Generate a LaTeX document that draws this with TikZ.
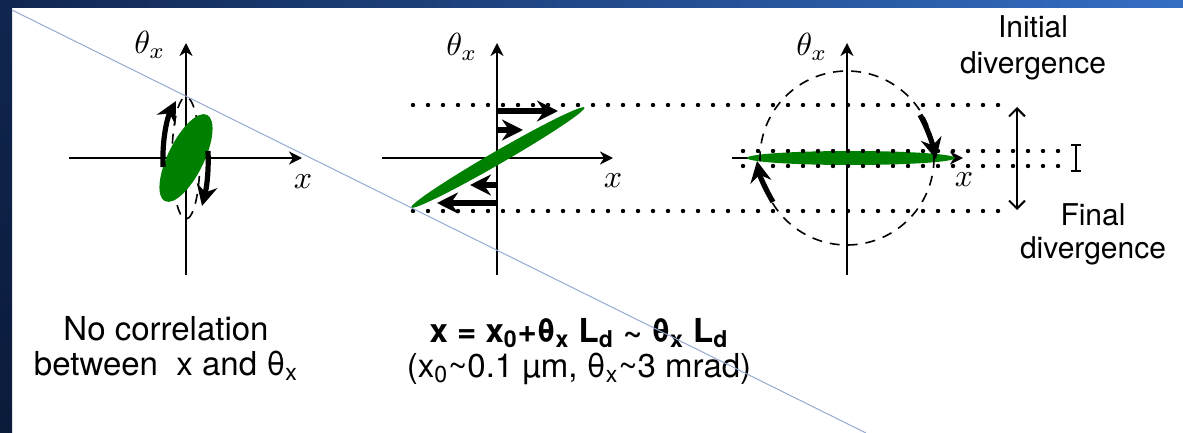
\documentclass[tikz,border=0pt]{standalone}
\usepackage{fontspec}
\setmainfont{TeX Gyre Heros}
\usetikzlibrary{arrows.meta}
\definecolor{beamgreen}{RGB}{0,128,0}
\definecolor{slidenavy}{RGB}{16,38,80}
\definecolor{slidedeep}{RGB}{11,27,58}
\definecolor{slideblue}{RGB}{52,110,196}
\definecolor{crossline}{RGB}{150,170,210}
\newcommand{\axtext}[1]{\scalebox{1.6}{$#1$}}
\tikzset{
  axisline/.style={line width=1pt,-{Stealth[length=6.5pt,width=6.5pt,inset=2pt]}},
  kick/.style={line width=2.6pt,-{Stealth[length=10.5pt,width=10.5pt,inset=3.5pt]}},
  dotline/.style={line width=2.2pt,line cap=round,dash pattern=on 0pt off 7.5pt},
  ring/.style={line width=0.8pt,dash pattern=on 5pt off 4pt},
  axlabel/.style={inner sep=0pt},
  caption/.style={align=center,inner sep=0pt,anchor=north,font=\fontsize{16.5}{17.5}\selectfont},
  sidelabel/.style={align=center,inner sep=0pt,anchor=north,font=\fontsize{15}{18}\selectfont}
}
\begin{document}
\begin{tikzpicture}[x=0.5pt,y=-0.5pt]
  \useasboundingbox (0,0) rectangle (1183,433);
  % slide frame
  \fill[white] (0,0) rectangle (1183,433);
  \shade[left color=slidenavy,right color=slideblue] (0,0) rectangle (1183,8);
  \shade[top color=slidenavy,bottom color=slidedeep] (0,0) rectangle (12,433);

  % no correlation
  \coordinate (O1) at (186,158);
  \coordinate (X1a) at (69,158);
  \coordinate (X1b) at (302,158);
  \coordinate (Y1a) at (186,275);
  \coordinate (Y1b) at (186,43);
  \draw[axisline] (X1a) -- (X1b);
  \draw[axisline] (Y1a) -- (Y1b);
  \draw[ring] (O1) ellipse (14 and 61);
  \fill[beamgreen,rotate around={64:(O1)}] (O1) ellipse (48 and 18);
  \draw[kick] (163,167) .. controls (162,140) and (167,118) .. (176,101);
  \draw[kick] (208,151) .. controls (209,175) and (206,190) .. (202,206);
  \node[axlabel] (T1) at (150,45) {\axtext{\theta_x}};
  \node[axlabel] (L1) at (303,182) {\axtext{x}};

  % drift: x grows with theta
  \coordinate (O2) at (497,158);
  \coordinate (X2a) at (382,158);
  \coordinate (X2b) at (613,158);
  \coordinate (Y2a) at (497,275);
  \coordinate (Y2b) at (497,43);
  \coordinate (DTa) at (413,105);
  \coordinate (DTb) at (1002,105);
  \coordinate (DBa) at (413,211);
  \coordinate (DBb) at (1002,211);
  \draw[axisline] (X2a) -- (X2b);
  \draw[axisline] (Y2a) -- (Y2b);
  \fill[beamgreen,rotate around={30:(O2)}] (498,158) ellipse (100 and 6.5);
  \draw[dotline] (DTa) -- (DTb);
  \draw[dotline] (DBa) -- (DBb);
  \draw[kick] (497,111) -- (558,111);
  \draw[kick] (497,130) -- (523,130);
  \draw[kick] (497,185) -- (470,185);
  \draw[kick] (497,203) -- (437,203);
  \node[axlabel] (T2) at (462,47) {\axtext{\theta_x}};
  \node[axlabel] (L2) at (613,181) {\axtext{x}};

  % rotated: small divergence
  \coordinate (O3) at (847,158);
  \coordinate (X3a) at (732,158);
  \coordinate (X3b) at (963,158);
  \coordinate (Y3a) at (847,275);
  \coordinate (Y3b) at (847,43);
  \draw[axisline] (X3a) -- (X3b);
  \draw[axisline] (Y3a) -- (Y3b);
  \fill[beamgreen] (851,158) ellipse (104 and 7);
  \draw[dotline] (743,151) -- (1067,151);
  \draw[dotline] (743,166) -- (1067,166);
  \draw[ring] (O3) circle (87);
  \draw[kick] (920,115) .. controls (927,127) and (932,142) .. (936,159);
  \draw[kick] (773,202) .. controls (766,190) and (760,177) .. (757,161);
  \draw[line width=1pt,{Straight Barb[length=4pt,width=8pt]}-{Straight Barb[length=4pt,width=8pt]}] (1017,107) -- (1017,210);
  \draw[line width=1.2pt,{Bar[width=5pt]}-{Bar[width=5pt]}] (1076,144) -- (1076,172);
  \node[axlabel] (T3) at (812,47) {\axtext{\theta_x}};
  \node[axlabel] (L3) at (964,180) {\axtext{x}};

  % texts
  \node[sidelabel] (Ini) at (1033,15) {Initial\\divergence};
  \node[sidelabel,font=\fontsize{15}{16.5}\selectfont] (Fin) at (1093,203) {Final\\divergence};
  \node[caption] (C1) at (166,316) {No correlation\\between\ \ x and θ\textsubscript{x}};
  \node[caption] (C2) at (579,318) {\textbf{x = x\textsubscript{0}+θ\textsubscript{x} L\textsubscript{d} \textasciitilde{} θ\textsubscript{x} L\textsubscript{d}}\\(x\textsubscript{0}\textasciitilde0.1 µm, θ\textsubscript{x}\textasciitilde3 mrad)};

  \draw[crossline,line width=0.5pt] (12,10) -- (866,433);
\end{tikzpicture}
\end{document}
